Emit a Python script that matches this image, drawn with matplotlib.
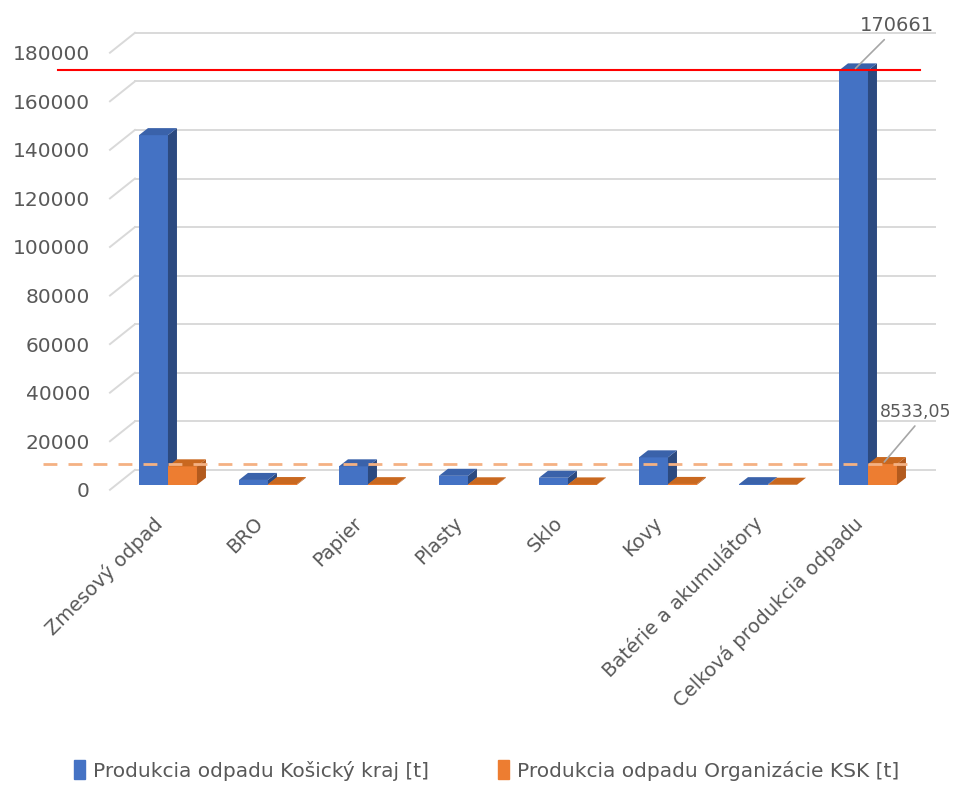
import numpy as np
import matplotlib.pyplot as plt
import matplotlib.transforms as mtransforms
from matplotlib.patches import Polygon, Patch

# data
categories = ['Zmesový odpad', 'BRO', 'Papier', 'Plasty', 'Sklo', 'Kovy',
              'Batérie a akumulátory', 'Celková produkcia odpadu']
kraj = [144000, 2000, 7600, 3700, 2900, 11300, 250, 170661]
ksk = [7600, 300, 250, 200, 150, 350, 30, 8533.05]
series_names = ['Produkcia odpadu Košický kraj [t]',
                'Produkcia odpadu Organizácie KSK [t]']
yticks = list(range(0, 180001, 20000))

plt.rcParams['font.family'] = ['DejaVu Sans']
gray = '#595959'

fig = plt.figure(figsize=(9.64, 7.87), dpi=100)
ax = fig.add_axes([0.112, 0.365, 0.861, 0.622])
ax.set_xlim(-0.6, 7.7)
ax.set_ylim(-4100, 197500)

# fake 3d: wall offset and bar depth (data units)
wall_dx, wall_dy = 0.25, 8200
bar_w, bar_dx, bar_dy = 0.29, 0.09, 2900
base = wall_dy / 4  # bars stand a bit behind the front edge of the floor

# gridlines on the left wall and back wall
for t in yticks:
    ax.plot([-0.58, -0.58 + wall_dx], [t, t + wall_dy], color='#D9D9D9', lw=1.4, zorder=1)
    ax.plot([-0.58 + wall_dx, 7.67], [t + wall_dy] * 2, color='#D9D9D9', lw=1.4, zorder=1)

x = np.arange(len(categories))
styles = [('#4472C4', '#2C4A80', '#3A62AA'), ('#ED7D31', '#B35A1D', '#C9681F')]


def bars3d(x0, heights, front, side, top):
    ax.bar(x0, heights, width=bar_w, bottom=base, align='edge', color=front, zorder=3)
    for xi, h in zip(x0, heights):
        h = h + base
        ax.add_patch(Polygon([(xi + bar_w, base), (xi + bar_w + bar_dx, base + bar_dy),
                              (xi + bar_w + bar_dx, h + bar_dy), (xi + bar_w, h)],
                             fc=side, ec='none', zorder=3))
        ax.add_patch(Polygon([(xi, h), (xi + bar_w, h),
                              (xi + bar_w + bar_dx, h + bar_dy), (xi + bar_dx, h + bar_dy)],
                             fc=top, ec='none', zorder=3))


bars3d(x - bar_w, kraj, *styles[0])
bars3d(x, ksk, *styles[1])

# reference lines at the totals
ax.plot([-1.1, 7.52], [kraj[-1] + base] * 2, color='#FF0000', lw=1.5, clip_on=False, zorder=4)
ax.plot([-1.25, 7.4], [ksk[-1] + base] * 2, color='#F4B183', lw=2,
        ls=(0, (5, 4)), clip_on=False, zorder=4)

# data labels for the totals
ax.annotate('170661', xy=(x[-1] - bar_w / 2, kraj[-1] + base), xytext=(43, 45),
            textcoords='offset pixels', ha='center', va='center', fontsize=14, color=gray,
            zorder=6,
            arrowprops=dict(arrowstyle='-', color='#A6A6A6', lw=1.2, relpos=(0.4, 0)))
ax.annotate('8533,05', xy=(x[-1] + bar_w / 2, ksk[-1] + base), xytext=(33, 52),
            textcoords='offset pixels', ha='center', va='center', fontsize=12.5, color=gray,
            zorder=6,
            arrowprops=dict(arrowstyle='-', color='#A6A6A6', lw=1.2, relpos=(0.55, 0)))

ax.set_yticks(yticks)
ax.set_yticklabels([str(t) for t in yticks], fontsize=14.5, color=gray)
ax.tick_params(axis='y', length=0, pad=13)
ax.set_xticks(x)
ax.set_xticklabels(categories, rotation=45, ha='right', rotation_mode='anchor',
                   fontsize=14, color=gray)
ax.tick_params(axis='x', length=0, pad=10)
shift = mtransforms.ScaledTranslation(-15 / 100, 0, fig.dpi_scale_trans)
for lab in ax.get_xticklabels():
    lab.set_transform(lab.get_transform() + shift)
for s in ax.spines.values():
    s.set_visible(False)

handles = [Patch(color=styles[0][0]), Patch(color=styles[1][0])]
fig.legend(handles, series_names, loc='lower center', bbox_to_anchor=(0.505, -0.015), ncol=2,
           frameon=False, fontsize=14.5, labelcolor=gray, handlelength=0.55, handleheight=1.1,
           handletextpad=0.4, columnspacing=3.4)

fig.savefig('out.png', dpi=100)
